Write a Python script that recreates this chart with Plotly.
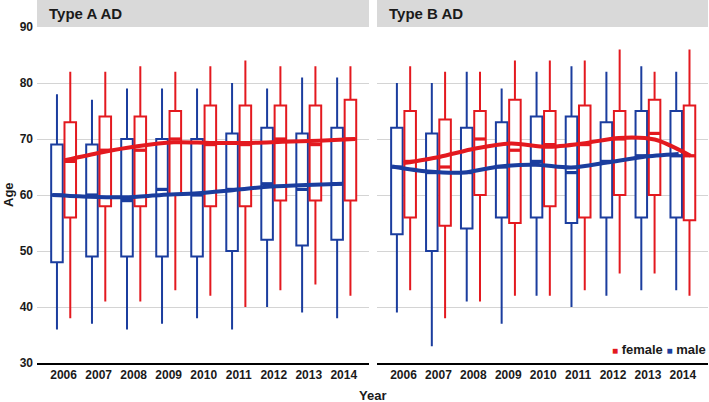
import plotly.graph_objects as go
import numpy as np

years = [2006, 2007, 2008, 2009, 2010, 2011, 2012, 2013, 2014]
panels = ["Type A AD", "Type B AD"]
sexes = ["female", "male"]

# Type A AD
A_male_low = [36, 37, 36, 37, 38, 36, 40, 39, 38]
A_male_q1 = [48, 49, 49, 49, 49, 50, 52, 51, 52]
A_male_med = [60, 60, 59, 61, 60, 61, 62, 61, 62]
A_male_q3 = [69, 69, 70, 70, 70, 71, 72, 71, 72]
A_male_high = [78, 77, 79, 79, 79, 80, 79, 81, 81]

A_female_low = [38, 41, 41, 43, 42, 40, 43, 44, 42]
A_female_q1 = [56, 58, 58, 60, 58, 58, 59, 59, 59]
A_female_med = [66, 68, 68, 70, 69, 69, 70, 69, 70]
A_female_q3 = [73, 74, 74, 75, 76, 76, 76, 76, 77]
A_female_high = [82, 82, 83, 82, 83, 84, 83, 83, 83]

# Type B AD
B_male_low = [39, 33, 41, 37, 42, 40, 42, 43, 43]
B_male_q1 = [53, 50, 54, 56, 56, 55, 56, 56, 56]
B_male_med = [65, 64, 64, 65, 66, 64, 66, 67, 67]
B_male_q3 = [72, 71, 72, 73, 74, 74, 73, 75, 75]
B_male_high = [80, 80, 82, 79, 82, 83, 82, 83, 82]

B_female_low = [43, 38, 41, 42, 42, 43, 46, 46, 42]
B_female_q1 = [56, 54.5, 60, 55, 58, 56, 60, 60, 55.5]
B_female_med = [66, 65, 70, 68, 69, 69, 70, 71, 67]
B_female_q3 = [75, 73.5, 75, 77, 75, 76, 75, 77, 76]
B_female_high = [83, 82, 82, 84, 84, 84, 86, 82, 86]

# loess smooth values read at each year
A_male_smooth = [60.0, 59.7, 59.6, 60.0, 60.3, 60.9, 61.5, 61.8, 62.0]
A_female_smooth = [66.2, 67.6, 68.7, 69.4, 69.3, 69.3, 69.5, 69.7, 70.0]
B_male_smooth = [65.1, 64.2, 64.0, 65.1, 65.4, 64.9, 65.8, 66.8, 67.3]
B_female_smooth = [65.7, 66.8, 68.3, 69.2, 68.6, 69.2, 70.2, 69.9, 67.0]

y_ticks = [30, 40, 50, 60, 70, 80, 90]

RED = "#e3191f"
BLUE = "#1b3d9e"
FONT = "Liberation Sans, Arial, sans-serif"

data = {
    ("A", "male"): (A_male_low, A_male_q1, A_male_med, A_male_q3, A_male_high, A_male_smooth),
    ("A", "female"): (A_female_low, A_female_q1, A_female_med, A_female_q3, A_female_high, A_female_smooth),
    ("B", "male"): (B_male_low, B_male_q1, B_male_med, B_male_q3, B_male_high, B_male_smooth),
    ("B", "female"): (B_female_low, B_female_q1, B_female_med, B_female_q3, B_female_high, B_female_smooth),
}

box_off = {"male": -0.19, "female": 0.19}
box_w = 0.33
# smooth line span (start offset, end offset) relative to first/last year
line_span = {
    ("A", "male"): (-0.32, -0.02),
    ("A", "female"): (0.03, 0.32),
    ("B", "male"): (-0.33, -0.12),
    ("B", "female"): (0.0, 0.22),
}
colors = {"male": BLUE, "female": RED}

fig = go.Figure()
yr = np.array(years, dtype=float)

for pi, p in enumerate(["A", "B"]):
    xa = "x" if pi == 0 else "x2"
    ya = "y" if pi == 0 else "y2"
    for s in ["male", "female"]:
        low, q1, med, q3, high, sm = data[(p, s)]
        xs = yr + box_off[s]
        fig.add_trace(go.Box(
            x=xs, q1=q1, median=med, q3=q3, lowerfence=low, upperfence=high,
            width=box_w, whiskerwidth=0, fillcolor="white",
            line=dict(color=colors[s], width=2), showlegend=False,
            hoverinfo="skip", xaxis=xa, yaxis=ya, boxpoints=False,
        ))
        # thicker median segments
        mx, my = [], []
        for x0, m in zip(xs, med):
            mx += [x0 - box_w / 2, x0 + box_w / 2, None]
            my += [m, m, None]
        fig.add_trace(go.Scatter(x=mx, y=my, mode="lines",
                                 line=dict(color=colors[s], width=3.2),
                                 showlegend=False, hoverinfo="skip",
                                 xaxis=xa, yaxis=ya))
    for s in ["female", "male"]:
        sm = data[(p, s)][5]
        a, b = line_span[(p, s)]
        lx = np.linspace(years[0] + a, years[-1] + b, len(years))
        fig.add_trace(go.Scatter(x=lx, y=sm, mode="lines",
                                 line=dict(color=colors[s], width=4, shape="spline", smoothing=0.8),
                                 showlegend=False, hoverinfo="skip",
                                 xaxis=xa, yaxis=ya))

W, H = 709, 402
ml, mr, mt, mb = 37, 1, 27, 39
pw = W - ml - mr
ph = H - mt - mb
d1 = (369 - ml) / pw
d2 = (377 - ml) / pw

TICKF = dict(family=FONT, size=12, color="#1a1a1a", weight="bold")
xrange_ = [2005.24, 2014.72]
xcommon = dict(range=xrange_, tickvals=years, ticktext=[str(y) for y in years],
               showgrid=False, zeroline=False, showline=True, linecolor="black",
               linewidth=1.5, ticks="", automargin=False, tickfont=TICKF)
ycommon = dict(range=[30, 90], tickvals=y_ticks, showgrid=True, gridcolor="#d4d4d4",
               gridwidth=1, zeroline=False, showline=False, ticks="", automargin=False)

strip_h = 27 / ph
fig.update_layout(
    width=W, height=H, autosize=False,
    margin=dict(l=ml, r=mr, t=mt, b=mb, pad=0),
    paper_bgcolor="white", plot_bgcolor="white",
    showlegend=False,
    boxmode="overlay",
    xaxis=dict(domain=[0, d1], **xcommon),
    xaxis2=dict(domain=[d2, 1], **xcommon),
    yaxis=dict(anchor="x", tickfont=TICKF, ticklabelstandoff=3, **ycommon),
    yaxis2=dict(anchor="x2", matches="y", showticklabels=False, **ycommon),
    shapes=[
        dict(type="rect", xref="paper", yref="paper", x0=0, x1=d1, y0=1, y1=1 + strip_h,
             fillcolor="#d9d9d9", line=dict(width=0), layer="below"),
        dict(type="rect", xref="paper", yref="paper", x0=d2, x1=1, y0=1, y1=1 + strip_h,
             fillcolor="#d9d9d9", line=dict(width=0), layer="below"),
    ],
)

annots = [
    dict(text=panels[0], x=(47 - ml) / pw, y=1 + (27 - 14) / ph, xref="paper", yref="paper",
         xanchor="left", yanchor="middle", showarrow=False,
         font=dict(family=FONT, size=15, color="#1a1a1a", weight="bold")),
    dict(text=panels[1], x=(387 - ml) / pw, y=1 + (27 - 14) / ph, xref="paper", yref="paper",
         xanchor="left", yanchor="middle", showarrow=False,
         font=dict(family=FONT, size=15, color="#1a1a1a", weight="bold")),
    dict(text="Age", x=(8 - ml) / pw, y=0.5, xref="paper", yref="paper", textangle=-90,
         xanchor="center", yanchor="middle", showarrow=False,
         font=dict(family=FONT, size=13, color="#1a1a1a", weight="bold")),
    dict(text="Year", x=0.5, y=(363 - 395) / ph, xref="paper", yref="paper",
         xanchor="center", yanchor="middle", showarrow=False,
         font=dict(family=FONT, size=13, color="#1a1a1a", weight="bold")),
    dict(text=(f'<span style="color:{RED};font-size:10px">■</span> {sexes[0]} '
               f'<span style="color:{BLUE};font-size:10px">■</span> {sexes[1]}'),
         x=1, y=(363 - 349) / ph, xref="paper", yref="paper",
         xanchor="right", yanchor="middle", showarrow=False,
         font=dict(family=FONT, size=13, color="#1a1a1a", weight="bold")),
]
fig.update_layout(annotations=annots)

fig.write_html("out.html", config={"responsive": False, "displayModeBar": False},
               post_script="document.body.style.margin='0';document.body.style.overflow='hidden';")
